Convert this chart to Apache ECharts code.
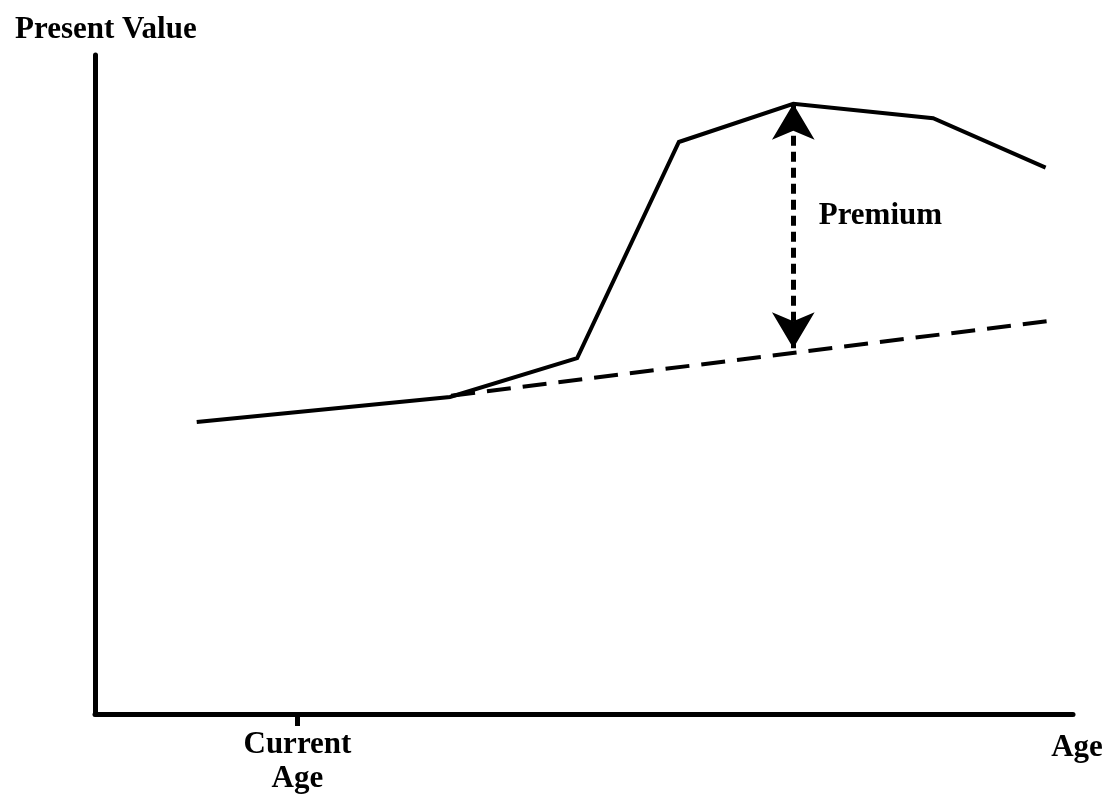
<!DOCTYPE html>
<html>
<head>
<meta charset="utf-8">
<script src="https://cdn.jsdelivr.net/npm/echarts@6/dist/echarts.min.js"></script>
<style>
html,body{margin:0;padding:0;background:#fff;}
#chart{width:1114px;height:803px;}
</style>
</head>
<body>
<div id="chart"></div>
<script>
// Solid line: present value of the firm with the anticipated premium
const solidX = [10.4, 36.3, 49.3, 59.7, 71.4, 85.7, 97.2];
const solidY = [44.3, 48.1, 54.0, 86.8, 92.6, 90.4, 82.9];
// Dashed line: present value without the premium (listed right to left)
const dashedX = [97.3, 35.3];
const dashedY = [59.6, 48.1];
// Premium arrow (from solid peak down to the dashed line)
const arrowX = 71.4;
const arrowTop = 92.6;
const arrowBottom = 55.5;
const premiumLabel = 'Premium';
const premiumAt = [74.0, 75.6];
// X-axis tick
const tickValues = [20.7];
const tickLabels = ['Current\nAge'];
const xName = 'Age';
const yName = 'Present Value';

const FONT = 'Liberation Serif';
const chart = echarts.init(document.getElementById('chart'));
chart.setOption({
  backgroundColor: '#ffffff',
  animation: false,
  title: {
    text: yName,
    left: 10,
    top: 9,
    textStyle: {fontFamily: FONT, fontWeight: 'bold', fontSize: 31, color: '#000'}
  },
  grid: {left: 95, right: 41, top: 55, bottom: 89},
  xAxis: {
    type: 'value', min: 0, max: 100,
    splitLine: {show: false},
    axisLine: {show: true, lineStyle: {color: '#000', width: 5}},
    axisTick: {show: true, customValues: tickValues, length: 12, lineStyle: {color: '#000', width: 5}},
    axisLabel: {
      show: true, customValues: tickValues, margin: 14,
      formatter: function (v) { const i = tickValues.indexOf(v); return i >= 0 ? tickLabels[i] : ''; },
      fontFamily: FONT, fontWeight: 'bold', fontSize: 31, color: '#000', lineHeight: 34, align: 'center'
    },
    name: xName,
    nameLocation: 'end',
    nameGap: 4,
    nameTextStyle: {fontFamily: FONT, fontWeight: 'bold', fontSize: 31, color: '#000', align: 'center', verticalAlign: 'top', padding: [18, 0, 0, 0]}
  },
  yAxis: {
    type: 'value', min: 0, max: 100,
    splitLine: {show: false},
    axisLine: {show: true, lineStyle: {color: '#000', width: 5}},
    axisTick: {show: false},
    axisLabel: {show: false}
  },
  series: [
    {
      type: 'line',
      data: solidX.map((x, i) => [x, solidY[i]]),
      showSymbol: false,
      symbol: 'none',
      lineStyle: {color: '#000', width: 4, join: 'miter'},
      z: 3
    },
    {
      type: 'line',
      data: dashedX.map((x, i) => [x, dashedY[i]]),
      showSymbol: false,
      symbol: 'none',
      lineStyle: {color: '#000', width: 4, type: [24, 12]},
      z: 2
    },
    {
      type: 'scatter',
      data: [premiumAt],
      symbolSize: 0,
      itemStyle: {color: '#000', opacity: 1},
      label: {
        show: true, position: 'inside', align: 'left', verticalAlign: 'middle',
        formatter: premiumLabel,
        fontFamily: FONT, fontWeight: 'bold', fontSize: 31, color: '#000', opacity: 1
      },
      markLine: {
        silent: true,
        symbol: ['arrow', 'arrow'],
        symbolSize: [32, 36],
        label: {show: false},
        lineStyle: {color: '#000', width: 5, type: [10, 6], opacity: 1},
        itemStyle: {color: '#000'},
        data: [[{coord: [arrowX, arrowTop]}, {coord: [arrowX, arrowBottom]}]]
      },
      z: 4
    }
  ]
});
</script>
</body>
</html>
